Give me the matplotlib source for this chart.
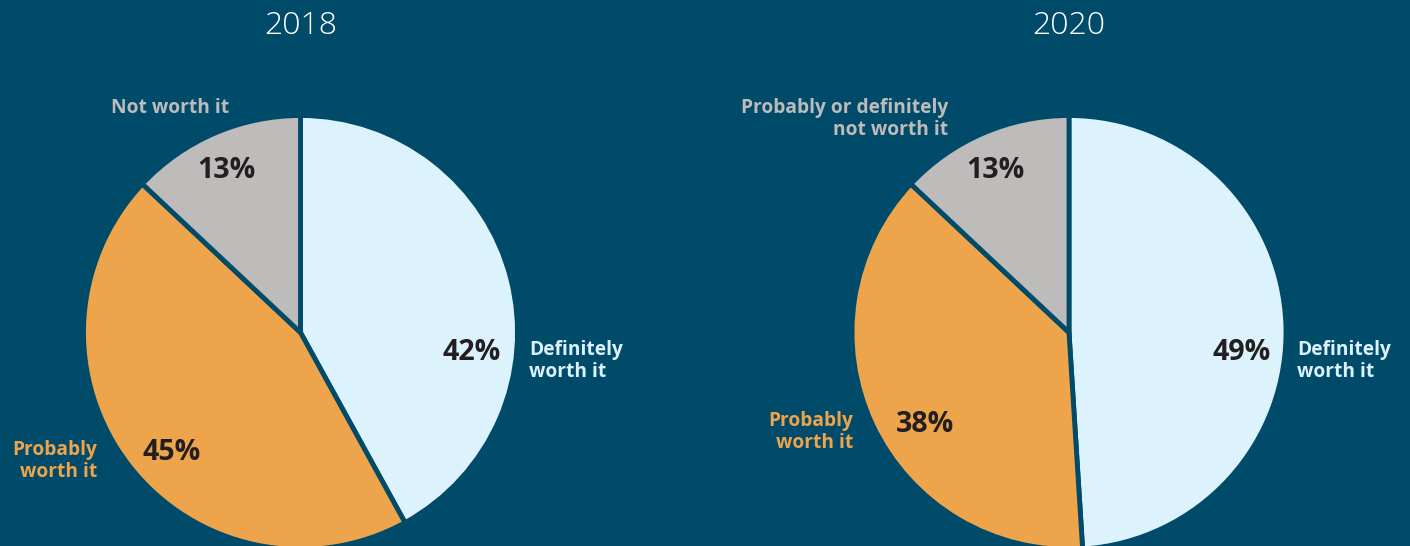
import matplotlib
matplotlib.use("Agg")
import matplotlib.pyplot as plt

years = ["2018", "2020"]
categories = ["Definitely worth it", "Probably worth it", "Not worth it"]
values_2018 = [42, 45, 13]
values_2020 = [49, 38, 13]
pct_labels_2018 = ["42%", "45%", "13%"]
pct_labels_2020 = ["49%", "38%", "13%"]
cat_labels_2018 = ["Definitely\nworth it", "Probably\nworth it", "Not worth it"]
cat_labels_2020 = ["Definitely\nworth it", "Probably\nworth it", "Probably or definitely\nnot worth it"]

BG = "#004a6a"
colors = ["#dcf2fd", "#eda44b", "#bebcba"]
label_colors = ["#dcf2fd", "#eda44b", "#bebcba"]
DARK = "#231f20"

W, H = 1410, 546
fig = plt.figure(figsize=(W / 100, H / 100), dpi=100, facecolor=BG)
ax = fig.add_axes([0, 0, 1, 1])
ax.set_facecolor(BG)

FONT = ["Open Sans", "DejaVu Sans"]

def y(py):
    return H - py

pies = [
    dict(center=(300.5, y(332.5)), vals=values_2018, pcts=pct_labels_2018, cats=cat_labels_2018,
         title=years[0],
         pct_pos=[(472, 353), (172, 453), (226, 171)],
         cat_pos=[(529, 361, "left"), (97, 461, "right"), (170, 108, "center")]),
    dict(center=(1069, y(332.5)), vals=values_2020, pcts=pct_labels_2020, cats=cat_labels_2020,
         title=years[1],
         pct_pos=[(1242, 353), (925, 425), (995, 171)],
         cat_pos=[(1297, 361, "left"), (853, 432, "right"), (948, 119, "right")]),
]

R = 217
for p in pies:
    ax.pie(p["vals"], colors=colors, startangle=90, counterclock=False,
           center=p["center"], radius=R,
           wedgeprops=dict(edgecolor=BG, linewidth=3.5), frame=True)
    cx = p["center"][0]
    ax.text(cx, y(26), p["title"], ha="center", va="center", color="white",
            fontsize=23, fontweight="light", family=FONT)
    for (px, py), t in zip(p["pct_pos"], p["pcts"]):
        ax.text(px, y(py), t, ha="center", va="center", color=DARK,
                fontsize=20.5, fontweight="bold", family=FONT)
    for (px, py, ha), t, c in zip(p["cat_pos"], p["cats"], label_colors):
        ax.text(px, y(py), t, ha=ha, va="center", color=c, multialignment=ha if ha != "center" else "center",
                fontsize=13.8, fontweight="bold", family=FONT, linespacing=1.1)

ax.set_xlim(0, W)
ax.set_ylim(0, H)
ax.set_aspect("equal")
ax.axis("off")
fig.savefig("out.png", dpi=100, facecolor=BG)
